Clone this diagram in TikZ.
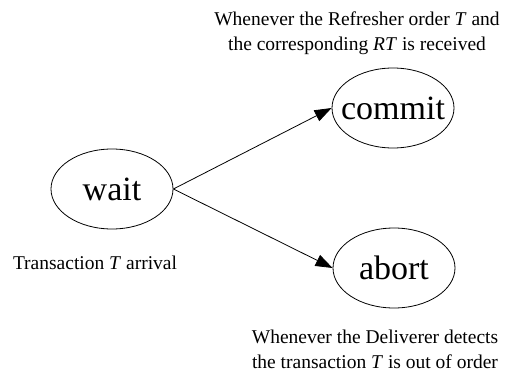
\documentclass[tikz,border=0pt]{standalone}
\usepackage{fontspec}
\setmainfont{Liberation Serif}
\usetikzlibrary{arrows.meta,shapes.geometric}
\begin{document}
\begin{tikzpicture}[x=1pt,y=-1pt,
  state/.style={draw,ellipse,line width=0.8pt,minimum width=122pt,minimum height=80pt,inner sep=0pt,
    label={[font=\fontsize{34}{40}\selectfont,inner sep=0pt]center:#1}},
  note/.style={align=center,font=\fontsize{19.5}{25}\selectfont,inner sep=0pt},
  trans/.style={line width=0.8pt,-{Triangle[length=17pt,width=12pt]}}]
\useasboundingbox (0,0) rectangle (505,372);
\node[state=wait] (wait) at (112,189) {};
\node[state=commit] (commit) at (393,108) {};
\node[state=abort] (abort) at (394,268) {};
\node[note] (ncommit) at (357,33) {Whenever the Refresher order \textit{T} and\\the corresponding \textit{RT} is received};
\node[note] (nwait) at (95,263) {Transaction \textit{T} arrival};
\node[note] (nabort) at (375,349) {Whenever the Deliverer detects\\the transaction \textit{T} is out of order};
\draw[trans] (wait.east) -- (commit.west);
\draw[trans] (wait.east) -- (abort.west);
\end{tikzpicture}
\end{document}
